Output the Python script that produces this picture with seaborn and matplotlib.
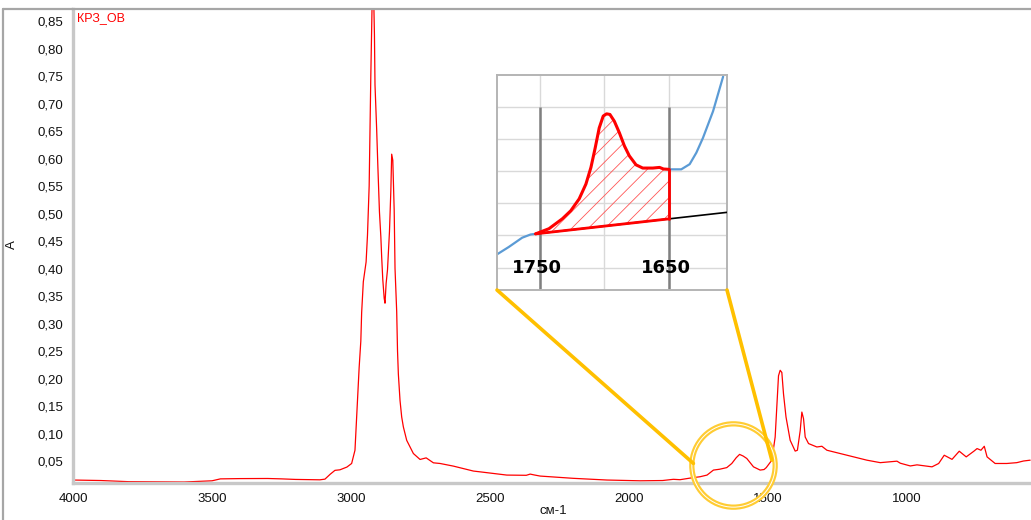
import numpy as np
import pandas as pd
import matplotlib
matplotlib.use("Agg")
import matplotlib.pyplot as plt
from matplotlib.ticker import FuncFormatter, MultipleLocator, FixedLocator
from matplotlib.patches import ConnectionPatch
from matplotlib.lines import Line2D
import seaborn as sns

# ---- IR spectrum (wavenumber, absorbance) ----
wavenumber = [4000, 3900, 3800, 3700, 3600, 3500, 3470, 3400, 3300, 3250, 3200, 3150,
              3112, 3094, 3075, 3058, 3040, 3015, 2998, 2986, 2980, 2971, 2965, 2962,
              2956, 2946, 2941, 2935, 2932, 2929, 2926, 2922, 2919, 2916, 2914, 2908,
              2904, 2898, 2893, 2890, 2886, 2881, 2878, 2874, 2869, 2862, 2857, 2854,
              2850, 2845, 2842, 2836, 2833, 2830, 2824, 2818, 2812, 2800, 2776, 2752,
              2730, 2704, 2680, 2632, 2560, 2538, 2440, 2370, 2356, 2340, 2320, 2201,
              2080, 1960, 1880, 1841, 1817, 1780, 1745, 1720, 1697, 1675, 1649, 1631,
              1615, 1603, 1590, 1577, 1553, 1529, 1515, 1507, 1487, 1475, 1469, 1463,
              1457, 1451, 1445, 1436, 1421, 1403, 1395, 1385, 1379, 1373, 1367, 1355,
              1325, 1307, 1289, 1217, 1145, 1097, 1037, 1025, 989, 965, 911, 887,
              867, 839, 813, 788, 760, 749, 735, 723, 713, 684, 642, 606, 582, 558]
absorbance = [0.0154, 0.0145, 0.0124, 0.0120, 0.0118, 0.0140, 0.0175, 0.0180, 0.0182, 0.0175,
              0.0165, 0.0160, 0.0158, 0.0170, 0.0260, 0.0330, 0.0340, 0.0390, 0.0455, 0.0696,
              0.130, 0.220, 0.268, 0.320, 0.376, 0.412, 0.461, 0.550, 0.656, 0.752,
              0.837, 0.950, 0.900, 0.825, 0.734, 0.653, 0.590, 0.503, 0.458, 0.421,
              0.380, 0.346, 0.337, 0.373, 0.398, 0.467, 0.542, 0.608, 0.597, 0.506,
              0.400, 0.322, 0.250, 0.208, 0.160, 0.130, 0.112, 0.0876, 0.0636, 0.0528,
              0.0557, 0.0467, 0.0455, 0.0407, 0.0317, 0.0304, 0.0244, 0.0240, 0.0262, 0.0245,
              0.0226, 0.0185, 0.0154, 0.0140, 0.0145, 0.0167, 0.0160, 0.0190, 0.0214, 0.0244,
              0.0335, 0.0350, 0.0380, 0.0455, 0.0560, 0.0620, 0.0590, 0.0546, 0.0394, 0.0335,
              0.0345, 0.0380, 0.0515, 0.0936, 0.148, 0.205, 0.215, 0.211, 0.172, 0.130,
              0.0876, 0.0680, 0.0696, 0.105, 0.139, 0.127, 0.0936, 0.0817, 0.0755, 0.0768,
              0.0696, 0.0605, 0.0515, 0.0470, 0.0497, 0.0460, 0.0410, 0.0430, 0.0394, 0.0455,
              0.0605, 0.0530, 0.0678, 0.0575, 0.0680, 0.0726, 0.0696, 0.0768, 0.0575, 0.0455,
              0.0455, 0.0470, 0.0500, 0.0515]

x_ticks = [4000, 3500, 3000, 2500, 2000, 1500, 1000]
y_ticks = [0.05, 0.10, 0.15, 0.20, 0.25, 0.30, 0.35, 0.40, 0.45, 0.50, 0.55, 0.60,
           0.65, 0.70, 0.75, 0.80, 0.85]
sample_name = "КРЗ_ОВ"

# ---- zoomed carbonyl region (schematic, relative units) ----
zoom_left_wn = [1783, 1773.9, 1763.5, 1757, 1753.1]
zoom_left_y = [0.41, 0.64, 0.93, 1.03, 1.05]
band_wn = [1753.1, 1742.8, 1732.4, 1725.9, 1719.4, 1714.2, 1710.3, 1707.0, 1703.9,
           1700.8, 1698.2, 1695.6, 1692.2, 1688.3, 1684.4, 1680.6, 1675.4, 1670.2,
           1662.4, 1657.2, 1654.1, 1650]
band_y = [1.05, 1.21, 1.52, 1.77, 2.14, 2.60, 3.12, 3.73, 4.35, 4.72, 4.79, 4.77,
          4.56, 4.20, 3.79, 3.48, 3.20, 3.10, 3.10, 3.12, 3.07, 3.06]
zoom_right_wn = [1650, 1640.4, 1633.9, 1628.7, 1623.6, 1615.8, 1608]
zoom_right_y = [3.06, 3.06, 3.22, 3.58, 4.04, 4.87, 5.95]
baseline_wn = [1753.1, 1605]
baseline_y = [1.05, 1.72]
band_limits = [1750, 1650]
zoom_circle_center = (1625, 0.0425)
zoom_link_targets = [(1769, 0.0456), (1487, 0.0515)]

RED = "#FF0000"
BLUE = "#5B9BD5"
GOLD = "#FFC000"
FRAME = "#A6A6A6"

sns.set_style("white")
plt.rcParams["font.family"] = ["Liberation Sans", "DejaVu Sans"]
plt.rcParams["hatch.linewidth"] = 0.6

W, H = 1031, 520
fig = plt.figure(figsize=(W / 100, H / 100), dpi=100)
ax = fig.add_axes([73 / W, 1 - 483 / H, (W - 73) / W, (483 - 9) / H])

df = pd.DataFrame({"wn": wavenumber, "A": absorbance})
sns.lineplot(data=df, x="wn", y="A", ax=ax, color=RED, linewidth=0.9,
             sort=False, estimator=None)

ax.set_xlim(4000, 555)
ax.set_ylim(0.01, 0.872)
ax.set_xlabel("")
ax.set_ylabel("")

ax.xaxis.set_major_locator(FixedLocator(x_ticks))
ax.xaxis.set_minor_locator(MultipleLocator(100))
ax.yaxis.set_major_locator(FixedLocator(y_ticks))
ax.yaxis.set_minor_locator(MultipleLocator(0.01))
ax.yaxis.set_major_formatter(FuncFormatter(lambda v, p: f"{v:.2f}".replace(".", ",")))
ax.xaxis.set_major_formatter(FuncFormatter(lambda v, p: f"{int(round(v))}"))

ax.tick_params(axis="both", which="major", labelsize=9.5, colors="#333333",
               length=4, width=1, direction="out", pad=3, labelcolor="#111111")
ax.tick_params(axis="both", which="minor", length=2.5, width=1, colors="#444444",
               direction="inout")

for side in ("left", "bottom"):
    ax.spines[side].set_color("#C8C8C8")
    ax.spines[side].set_linewidth(2.4)
ax.spines["top"].set_color(FRAME)
ax.spines["top"].set_linewidth(1.6)
ax.spines["right"].set_visible(False)

ax.text(0.004, 0.981, sample_name, transform=ax.transAxes, color=RED,
        fontsize=9, va="center", ha="left")

fig.text(12 / W, 1 - 245 / H, "A", rotation=90, fontsize=9.5, ha="center",
         va="center", color="#111111")
fig.text(553 / W, 1 - 511 / H, "см-1", fontsize=9.5, ha="center", va="center",
         color="#111111")

# outer frame lines
fig.add_artist(Line2D([3 / W, 3 / W], [0, 1 - 9 / H], transform=fig.transFigure,
                      color=FRAME, linewidth=1.6))
fig.add_artist(Line2D([3 / W, 73 / W], [1 - 9 / H, 1 - 9 / H], transform=fig.transFigure,
                      color=FRAME, linewidth=1.6))

# highlight ring around the carbonyl band
ax.plot([zoom_circle_center[0]], [zoom_circle_center[1]], marker="o", ms=60,
        mfc="none", mec="#FFCC33", mew=3.8, clip_on=False, zorder=5)
ax.plot([zoom_circle_center[0]], [zoom_circle_center[1]], marker="o", ms=60,
        mfc="none", mec="white", mew=0.7, clip_on=False, zorder=6)

# ---- inset with integration of the band ----
ins = fig.add_axes([497 / W, 1 - 290 / H, 230 / W, 215 / H])
ins.set_xlim(1783, 1605)
ins.set_ylim(-0.7, 6.0)
ins.set_xticks([1750, 1700, 1650])
ins.set_yticks([0, 1, 2, 3, 4, 5])
ins.tick_params(length=0, labelbottom=False, labelleft=False)
ins.grid(True, color="#D9D9D9", linewidth=1.0)
ins.set_facecolor("white")
for sp in ins.spines.values():
    sp.set_color("#B4B4B4")
    sp.set_linewidth(1.4)

ins.vlines(band_limits, -0.7, 5.0, color="#7F7F7F", linewidth=1.8, zorder=2)

sns.lineplot(x=zoom_left_wn, y=zoom_left_y, ax=ins, color=BLUE, linewidth=1.6,
             sort=False, estimator=None)
sns.lineplot(x=zoom_right_wn, y=zoom_right_y, ax=ins, color=BLUE, linewidth=1.6,
             sort=False, estimator=None)

ins.plot(baseline_wn, baseline_y, color="black", linewidth=1.2, zorder=3)
band_base = np.interp(band_wn[::-1], baseline_wn[::-1], baseline_y[::-1])[::-1]
ins.fill_between(band_wn, band_base, band_y, facecolor="none", edgecolor="#FF5555",
                 hatch="//", linewidth=0, zorder=3)
ins.plot([band_wn[0], band_wn[-1]], [band_base[0], band_base[-1]], color=RED,
         linewidth=2.0, zorder=4)
ins.plot([band_wn[-1], band_wn[-1]], [band_base[-1], band_y[-1]], color=RED,
         linewidth=2.0, zorder=4)
sns.lineplot(x=band_wn, y=band_y, ax=ins, color=RED, linewidth=2.2, sort=False,
             estimator=None, zorder=5)
ins.set_xlabel("")
ins.set_ylabel("")

ins.text(1752, 0.0, "1750", fontsize=13, fontweight="heavy", ha="center",
         va="center", color="black", family=["DejaVu Sans"])
ins.text(1652.5, 0.0, "1650", fontsize=13, fontweight="heavy", ha="center",
         va="center", color="black", family=["DejaVu Sans"])

# connector lines from the inset to the ring
for corner, target in zip([(0, 0), (1, 0)], zoom_link_targets):
    con = ConnectionPatch(xyA=corner, coordsA=ins.transAxes, xyB=target,
                          coordsB=ax.transData, color=GOLD, linewidth=2.6, zorder=7)
    fig.add_artist(con)

fig.savefig("out.png", dpi=100)
